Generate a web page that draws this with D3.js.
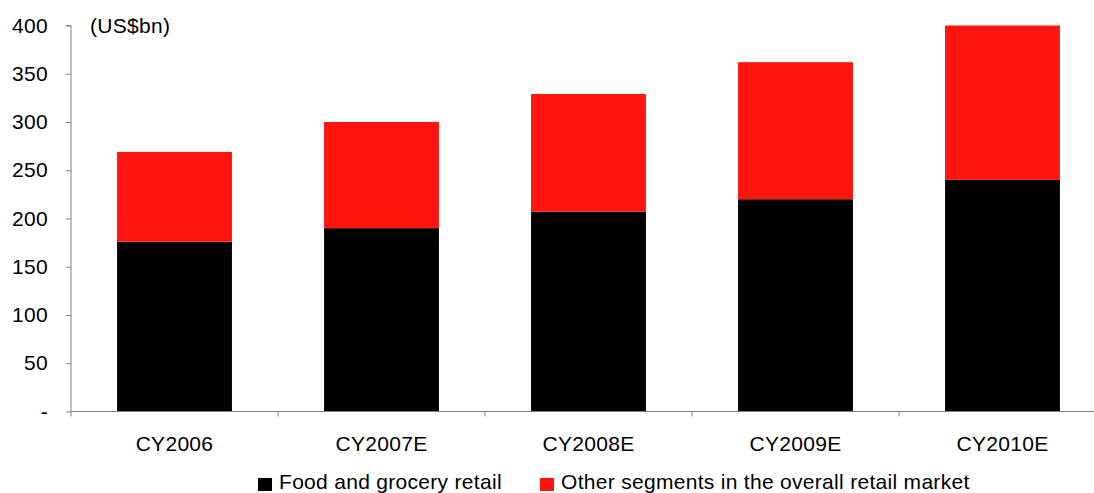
<!DOCTYPE html>
<html>
<head>
<meta charset="utf-8">
<script src="https://cdn.jsdelivr.net/npm/d3@7"></script>
<style>
  body { margin: 0; background: #fff; }
  text { font-family: Arial, "Liberation Sans", sans-serif; fill: #000; letter-spacing: 0.3px; }
</style>
</head>
<body>
<svg id="chart" width="1094" height="493"></svg>
<script>
var years = ['CY2006', 'CY2007E', 'CY2008E', 'CY2009E', 'CY2010E'];
var food = [176, 190, 207, 220, 240];
var other = [93, 110, 122, 142, 160];
var yTicks = [0, 50, 100, 150, 200, 250, 300, 350, 400];
var seriesNames = ['Food and grocery retail', 'Other segments in the overall retail market'];
var seriesColors = ['#000000', '#ff1510'];

var svg = d3.select('#chart');
var plotLeft = 71, plotRight = 1106, plotTop = 25.5, plotBottom = 411.5;

var x = d3.scaleBand()
  .domain(years)
  .range([plotLeft, plotRight])
  .paddingInner(0.445)
  .paddingOuter(0.2225);

var y = d3.scaleLinear()
  .domain([0, 400])
  .range([plotBottom, plotTop]);

var rows = years.map(function(yr, i) {
  return { year: yr, food: food[i], other: other[i] };
});

var stack = d3.stack().keys(['food', 'other'])(rows);

svg.append('g')
  .selectAll('g')
  .data(stack)
  .join('g')
  .attr('fill', function(d, i) { return seriesColors[i]; })
  .selectAll('rect')
  .data(function(d) { return d; })
  .join('rect')
  .attr('x', function(d) { return x(d.data.year); })
  .attr('width', x.bandwidth())
  .attr('y', function(d) { return y(d[1]); })
  .attr('height', function(d) { return y(d[0]) - y(d[1]); });

// y axis
var yAxis = svg.append('g')
  .attr('transform', 'translate(' + plotLeft + ',0)')
  .call(d3.axisLeft(y).tickValues(yTicks).tickSize(5).tickPadding(18)
    .tickFormat(function(d) { return d === 0 ? '-' : d; }));
yAxis.select('.domain').attr('stroke', '#808080').attr('d', 'M-5,' + plotTop + 'H0V' + plotBottom);
yAxis.selectAll('line').attr('stroke', '#808080');
yAxis.selectAll('text').style('font-size', '21px').attr('fill', '#000');

// x axis
var step = x.step();
var xAxis = svg.append('g');
xAxis.append('line')
  .attr('x1', plotLeft).attr('x2', 1094)
  .attr('y1', plotBottom).attr('y2', plotBottom)
  .attr('stroke', '#808080');
xAxis.selectAll('line.tick')
  .data(d3.range(years.length))
  .join('line')
  .attr('class', 'tick')
  .attr('x1', function(i) { return plotLeft + i * step; })
  .attr('x2', function(i) { return plotLeft + i * step; })
  .attr('y1', plotBottom).attr('y2', plotBottom + 5)
  .attr('stroke', '#808080');
xAxis.selectAll('text')
  .data(years)
  .join('text')
  .attr('x', function(d) { return x(d) + x.bandwidth() / 2; })
  .attr('y', 450.5)
  .attr('text-anchor', 'middle')
  .style('font-size', '21px')
  .text(function(d) { return d; });

// unit label
svg.append('text')
  .attr('x', 90).attr('y', 32.5)
  .style('font-size', '21px')
  .text('(US$bn)');

// legend
var legendX = [258, 540];
var legend = svg.append('g');
seriesNames.forEach(function(name, i) {
  legend.append('rect')
    .attr('x', legendX[i]).attr('y', 478)
    .attr('width', 14).attr('height', 13)
    .attr('fill', seriesColors[i]);
  legend.append('text')
    .attr('x', legendX[i] + 21).attr('y', 489)
    .style('font-size', '21px')
    .text(name);
});
</script>
</body>
</html>
